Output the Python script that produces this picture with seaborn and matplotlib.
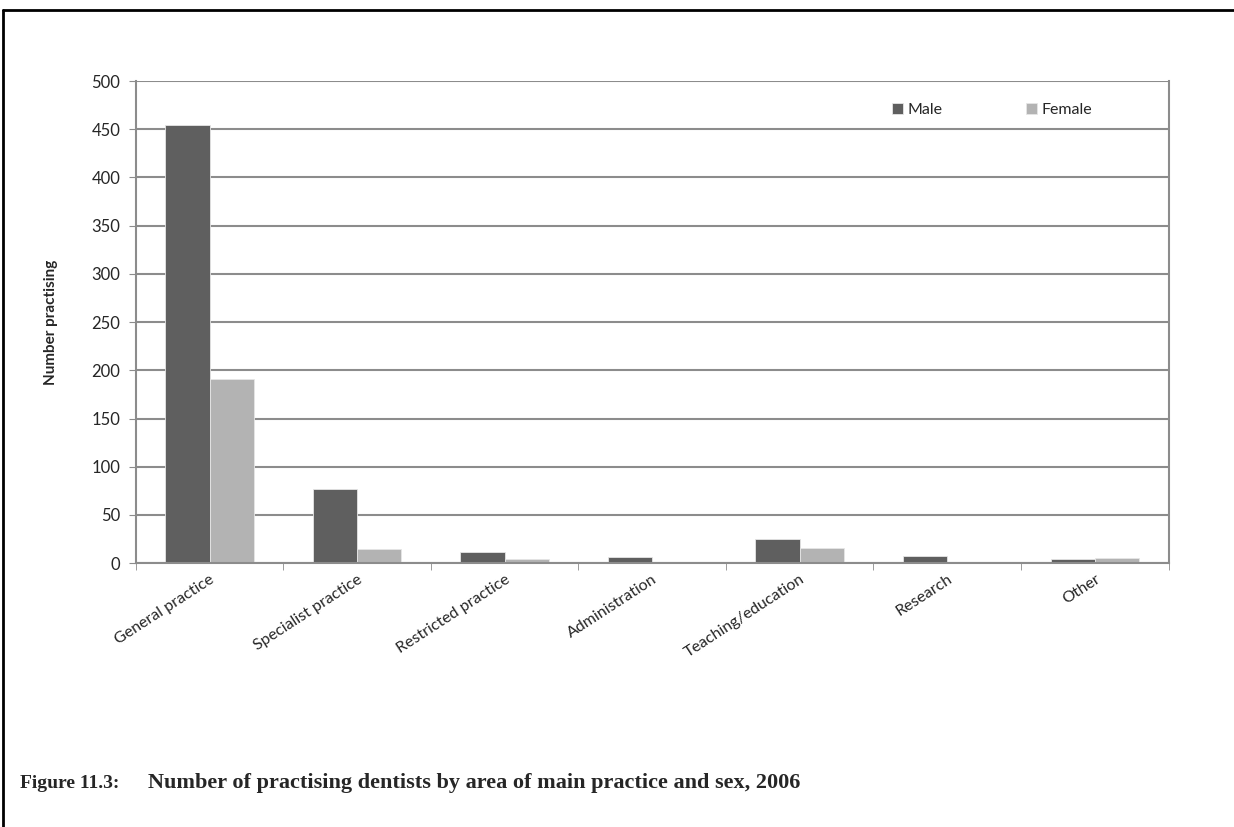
import matplotlib
matplotlib.use('Agg')
import matplotlib.pyplot as plt
from matplotlib.lines import Line2D
import pandas as pd
import seaborn as sns

categories = ['General practice', 'Specialist practice', 'Restricted practice',
              'Administration', 'Teaching/education', 'Research', 'Other']
male = [454, 77, 12, 6, 25, 7, 4]
female = [191, 15, 4, 0, 16, 0, 5]

df = pd.DataFrame({
    'area': categories * 2,
    'sex': ['Male'] * len(categories) + ['Female'] * len(categories),
    'count': male + female,
})

sns.set_style('white')
plt.rcParams['font.family'] = ['Lato', 'DejaVu Sans']

fig = plt.figure(figsize=(12.34, 8.27), dpi=100)
ax = fig.add_axes([0.110, 0.319, 0.837, 0.583])

grid_col = '#8c8c8c'
sns.barplot(data=df, x='area', y='count', hue='sex', ax=ax,
            palette={'Male': '#5f5f5f', 'Female': '#b3b3b3'},
            width=0.6, edgecolor='#e6e6e6', linewidth=0.6, saturation=1)

ax.set_ylim(0, 500)
ax.set_yticks(range(0, 501, 50))
ax.set_xlim(-0.5, len(categories) - 0.5)
ax.yaxis.grid(True, color=grid_col, linewidth=1.5)
ax.set_axisbelow(True)
for s in ax.spines.values():
    s.set_color(grid_col)
    s.set_linewidth(1.5)
ax.spines['top'].set_visible(False)

ax.tick_params(axis='y', which='both', left=True, length=5, color=grid_col,
               labelsize=12, pad=6)
ax.set_xticks([i + 0.5 for i in range(-1, len(categories))], minor=True)
ax.tick_params(axis='x', which='minor', bottom=True, length=5, color=grid_col)
ax.tick_params(axis='x', which='major', bottom=False, labelsize=11.5, pad=3)
plt.setp(ax.get_xticklabels(), rotation=33, ha='right', rotation_mode='anchor')

ax.set_xlabel('')
ax.set_ylabel('Number practising', fontsize=11, fontweight='bold', labelpad=24)

ax.legend(loc='upper right', bbox_to_anchor=(0.94, 0.985), ncol=2, frameon=False,
          fontsize=11.5, handlelength=0.7, handleheight=0.7, columnspacing=5.2,
          handletextpad=0.3, title=None)

fig.add_artist(Line2D([3 / 1234, 1], [1 - 10 / 827, 1 - 10 / 827], color='black', lw=2,
                      transform=fig.transFigure))
fig.add_artist(Line2D([3 / 1234, 3 / 1234], [0, 1 - 10 / 827], color='black', lw=2,
                      transform=fig.transFigure))

fig.text(20 / 1234, 1 - 783 / 827, 'Figure 11.3:', fontsize=14, fontweight='bold',
         family='Liberation Serif', va='center')
fig.text(148 / 1234, 1 - 783 / 827,
         'Number of practising dentists by area of main practice and sex, 2006',
         fontsize=16, fontweight='bold', family='Liberation Serif', va='center')

fig.savefig('out.png', dpi=100)
